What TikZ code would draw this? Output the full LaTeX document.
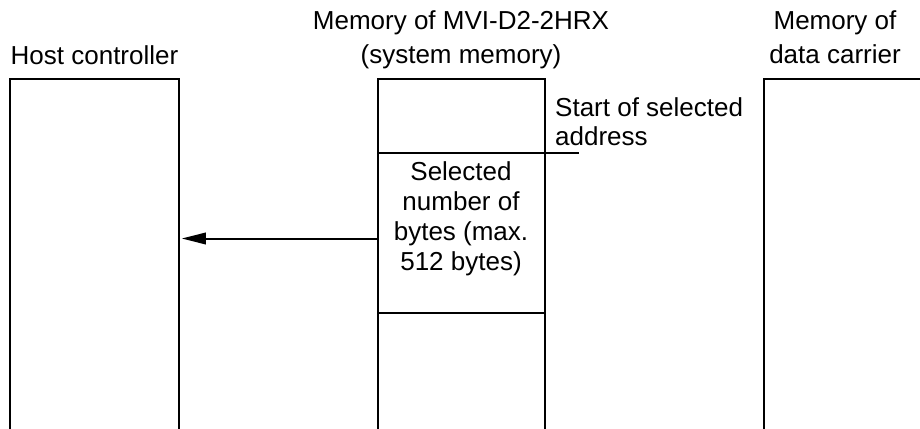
\documentclass[tikz,border=0pt]{standalone}
\usepackage{fontspec}
\setmainfont{Liberation Sans}
\usetikzlibrary{arrows.meta}
\tikzset{
  col/.style={draw, line width=2pt, rectangle, outer sep=0pt, inner sep=0pt, anchor=north west},
  lbl/.style={inner sep=0pt, font=\fontsize{26}{29.7}\selectfont},
  ttl/.style={inner sep=0pt, font=\fontsize{26}{33.3}\selectfont, align=center, anchor=base},
  sep/.style={line width=2pt},
  arr/.style={line width=2pt, -{Triangle[length=24pt,width=11.5pt]}}
}
\begin{document}
\begin{tikzpicture}[x=1pt,y=-1pt]
\useasboundingbox (0,0) rectangle (920,428);
% columns (open at bottom / right, cut by page)
\node[col, minimum width=168.5pt, minimum height=380pt] (host) at (10,79) {};
\node[col, minimum width=167pt, minimum height=380pt] (mem) at (377.5,79) {};
\node[col, minimum width=200pt, minimum height=380pt] (carrier) at (763.5,79) {};
% titles (base anchor = last line's baseline)
\node[lbl, anchor=base] (thost) at (94.5,64.3) {Host controller};
\node[ttl] (tmem) at (461,63.3) {Memory of MVI-D2-2HRX\\(system memory)};
\node[ttl] (tcar) at (835,63.3) {Memory of\\data carrier};
% separators in memory column
\coordinate (s1r) at (579,153);
\draw[sep] (mem.west |- s1r) -- (s1r);
\coordinate (s2) at (0,312.7);
\draw[sep] (mem.west |- s2) -- (mem.east |- s2);
% labels
\node[lbl, align=left, anchor=base west, font=\fontsize{26}{29}\selectfont] (start) at (555,145.7) {Start of selected\\address};
\node[lbl, align=center, anchor=base] (sel) at (461,270) {Selected\\number of\\bytes (max.\\512 bytes)};
% arrow
\coordinate (a) at (0,238.5);
\draw[arr, shorten >=3.3pt] (mem.west |- a) -- (host.east |- a);
\end{tikzpicture}
\end{document}
